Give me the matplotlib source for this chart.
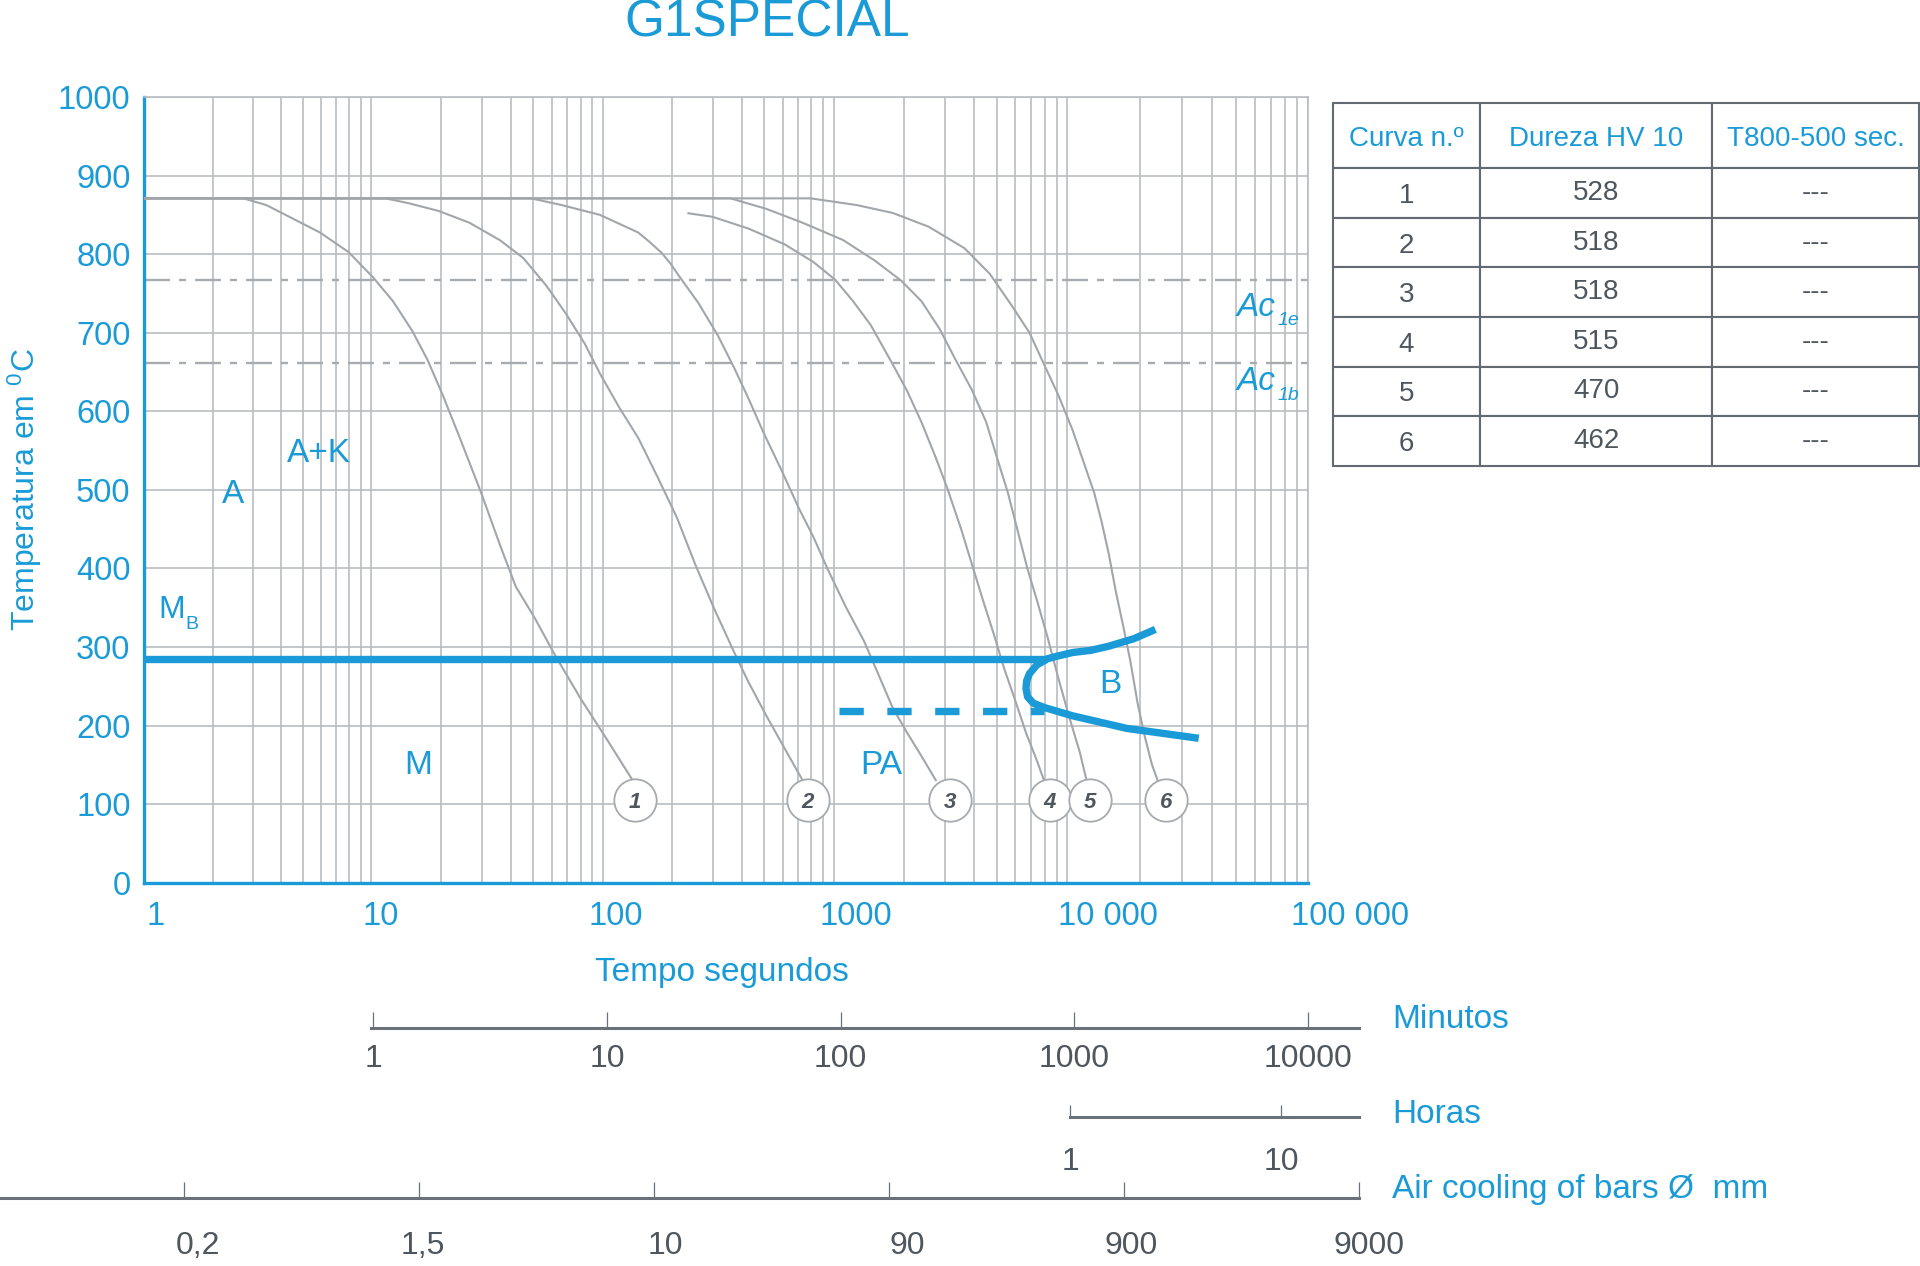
import numpy as np
import matplotlib
matplotlib.use('Agg')
import matplotlib.pyplot as plt
from matplotlib.ticker import LogLocator, NullFormatter, NullLocator
from matplotlib.transforms import ScaledTranslation

plt.rcParams['font.family'] = ['Liberation Sans', 'DejaVu Sans']
plt.rcParams['mathtext.fontset'] = 'custom'
plt.rcParams['mathtext.rm'] = 'Liberation Sans'
plt.rcParams['mathtext.it'] = 'Liberation Sans:italic'

azul = '#1a9bd7'
cinza_grelha = '#b9bdc1'
cinza_curva = '#a2a6aa'
cinza_texto = '#4f565d'
cinza_escala = '#6b7178'

# curvas de arrefecimento (tempo em s, temperatura em C)
c1_t = [1, 2.73, 3.44, 4.52, 5.94, 7.94, 10.2, 12.4, 15.0, 17.5, 20.3, 24.1, 29.8, 36.0, 42.0,
        50.7, 62.5, 80.2, 104.7, 134.3]
c1_T = [871, 871, 862.5, 845, 827.5, 802.5, 770, 740, 702.5, 665, 621, 566, 496, 429, 377,
        337, 288, 234, 181, 130.5]
c2_t = [1, 11.5, 14.4, 19.5, 26.5, 36.0, 45.3, 56.9, 68.9, 83.4, 97.0, 117.5, 142.2, 172.6,
        208.9, 251.2, 302, 370.7, 427.6, 511.7, 612.4, 732.8]
c2_T = [871, 871, 865, 855, 840, 817.5, 795, 760, 725, 686, 648, 605, 566, 516, 465, 405,
        350, 293, 255, 212, 171, 130.5]
c3_t = [1, 48.9, 66.2, 97.0, 142.2, 158.5, 179.1, 195, 213.8, 258.8, 314.1, 370.7, 427.6, 494.3,
        591.6, 707.9, 816.6, 941.9, 1127, 1346, 1549, 1786, 2061, 2377, 2735]
c3_T = [871, 871, 862.5, 850, 827.5, 816, 802, 789, 772, 738, 697, 655, 616, 574, 526, 476, 440,
        399, 351, 308, 266, 223, 191, 161, 130.5]
c4_t = [234.4, 298.5, 427.6, 612.4, 816.6, 1014, 1211, 1439, 1795, 2061, 2377, 2735, 3048,
        3508, 3936, 4345, 4831, 5383, 5984, 6653, 7396, 7943]
c4_T = [852, 847.5, 832.5, 812.5, 790, 767.5, 740, 710, 659, 626, 586, 541, 504, 450.5, 402,
        360.5, 317.5, 271.5, 232, 191, 156, 130.5]
c5_t = [1, 357.3, 511.7, 732.8, 1096, 1496, 1950, 2377, 2838, 3319, 3908, 4498, 5000, 5572,
        6081, 6761, 7396, 8222, 9141, 10162, 11272, 12020]
c5_T = [871, 871, 857.5, 840, 818, 792, 766, 740, 705, 666, 627, 586, 541, 496, 452, 399,
        360.5, 313, 261, 212, 166, 130.5]
c6_t = [1, 794, 1253, 1786, 2547, 3631, 4656, 5768, 6887, 7943, 9141, 10520, 11668, 12942,
        13868, 14859, 15922, 17061, 18281, 19588, 20989, 22439, 23710]
c6_T = [871, 871, 862.5, 852.5, 835, 807.5, 775, 735, 700, 660, 621, 576, 536, 496, 460, 419,
        370, 327, 282, 228.5, 186, 151, 130.5]

# numeros das curvas
circ_t = [138, 771, 3148, 8430, 12420, 25650]
circ_T = 105
circ_lab = ['1', '2', '3', '4', '5', '6']

# Ms, bainite e perlite
ms_t = [1, 8222]
ms_T = 285
b_t = [23230, 18880, 14860, 12500, 10520, 8851, 8222, 7396, 6887, 6699, 6653, 6761, 7145,
       7943, 10520, 17660, 35160]
b_T = [322.4, 310.5, 301, 295.7, 293, 287.6, 285, 277, 266, 257, 247.3, 236.6, 228.5, 223.1,
       212.4, 196.4, 183.8]
pa_t = [1050, 7943]
pa_T = 218

ac1e = 767.5
ac1b = 661.5

temp_ticks = [0, 100, 200, 300, 400, 500, 600, 700, 800, 900, 1000]
tempo_ticks = [1, 10, 100, 1000, 10000, 100000]
tempo_labels = ['1', '10', '100', '1000', '10 000', '100 000']

# tabela
tab_header = ['Curva n.º', 'Dureza HV 10', 'T800-500 sec.']
curva_n = ['1', '2', '3', '4', '5', '6']
dureza = [528, 518, 518, 515, 470, 462]
t8_5 = ['---', '---', '---', '---', '---', '---']

# escalas inferiores
min_ticks = [1, 10, 100, 1000, 10000]
min_labels = ['1', '10', '100', '1000', '10000']
hora_ticks = [1, 10]
hora_labels = ['1', '10']
ar_labels = ['0,2', '1,5', '10', '90', '900', '9000']

# no original as decadas do eixo do tempo nao tem todas a mesma largura (px)
dec_px = np.array([0, 226.9, 458.5, 689.2, 922.8, 1163.5])
dec_n = np.arange(len(dec_px))


def t_para_px(t):
    L = np.log10(np.maximum(np.asarray(t, dtype=float), 1e-12))
    y = np.interp(L, dec_n, dec_px)
    y = np.where(L < 0, L * dec_px[1], y)
    y = np.where(L > 5, dec_px[5] + (L - 5) * (dec_px[5] - dec_px[4]), y)
    return y


def px_para_t(y):
    y = np.asarray(y, dtype=float)
    L = np.interp(y, dec_px, dec_n)
    L = np.where(y < 0, y / dec_px[1], L)
    L = np.where(y > dec_px[5], 5 + (y - dec_px[5]) / (dec_px[5] - dec_px[4]), L)
    return 10 ** L


fig = plt.figure(figsize=(19.2, 12.66), dpi=100)
ax = fig.add_axes([0.07526, 0.30276, 0.60599, 0.62062])
ax.set_xscale('function', functions=(t_para_px, px_para_t))
ax.set_xlim(1, 1e5)
ax.set_ylim(0, 1000)
ax.set_yticks(temp_ticks)
ax.set_xticks(tempo_ticks)
ax.set_xticklabels(tempo_labels)
ax.xaxis.set_minor_locator(LogLocator(base=10, subs=np.arange(2, 10), numticks=50))
ax.xaxis.set_minor_formatter(NullFormatter())
ax.tick_params(which='both', length=0)
ax.tick_params(axis='y', labelsize=23.5, labelcolor=azul, pad=10)
ax.tick_params(axis='x', labelsize=23.5, labelcolor=azul, pad=13.5)
ax.grid(True, which='both', axis='x', color=cinza_grelha, lw=1.2)
ax.grid(True, which='major', axis='y', color=cinza_grelha, lw=1.2)
ax.set_axisbelow(True)
for s in ['left', 'bottom']:
    ax.spines[s].set_color(azul)
    ax.spines[s].set_linewidth(2.4)
for s in ['top', 'right']:
    ax.spines[s].set_color(cinza_grelha)
    ax.spines[s].set_linewidth(1.2)

# deslocar rotulos do eixo x como no original
for lab, dx in zip(ax.get_xticklabels(), [11, 9, 13, 22, 41, 42]):
    lab.set_transform(lab.get_transform() + ScaledTranslation(dx / 100, 0, fig.dpi_scale_trans))

ax.set_xlabel('Tempo segundos', fontsize=24, color=azul)
ax.xaxis.set_label_coords(0.4963, -0.094)
ax.set_ylabel('Temperatura em $\\mathrm{^{0}}$C', fontsize=23, color=azul)
ax.yaxis.set_label_coords(-0.086, 0.5)

# linhas Ac
ax.plot([1, 1e5], [ac1e, ac1e], color='#a8acb0', lw=1.7, ls=(0, (11, 3.8, 3, 3.8)), zorder=2)
ax.plot([1, 1e5], [ac1b, ac1b], color='#a8acb0', lw=1.7, ls=(0, (11, 3.8, 3, 3.8)), zorder=2)

# curvas
for t, T in [(c1_t, c1_T), (c2_t, c2_T), (c3_t, c3_T), (c4_t, c4_T), (c5_t, c5_T), (c6_t, c6_T)]:
    ax.plot(t, T, color=cinza_curva, lw=1.5, zorder=3, solid_joinstyle='round')

ax.plot(ms_t, [ms_T, ms_T], color=azul, lw=5.3, solid_capstyle='butt', zorder=4)
ax.plot(b_t, b_T, color=azul, lw=5.3, solid_capstyle='butt', solid_joinstyle='round', zorder=4)
ax.plot(pa_t, [pa_T, pa_T], color=azul, lw=5.3, ls=(0, (3.3, 3.2)), dash_capstyle='butt', zorder=4)

ax.plot(circ_t, [circ_T] * len(circ_t), 'o', ms=30.5, mfc='white', mec='#a6aaae', mew=1.3,
        zorder=5, clip_on=False)
for t, lab in zip(circ_t, circ_lab):
    ax.text(t, circ_T, lab, ha='center', va='center_baseline', fontsize=16, fontweight='bold',
            style='italic', color=cinza_texto, zorder=6)

# rotulos das regioes
ax.text(5.86, 535, 'A+K', ha='center', va='baseline', fontsize=24, color=azul)
ax.text(2.46, 483.5, 'A', ha='center', va='baseline', fontsize=24, color=azul)
ax.text(1.15, 337.5, 'M', ha='left', va='baseline', fontsize=23, color=azul)
ax.text(1.52, 322.5, 'B', ha='left', va='baseline', fontsize=14, color=azul)
ax.text(16.0, 138, 'M', ha='center', va='baseline', fontsize=24, color=azul)
ax.text(1596, 138, 'PA', ha='center', va='baseline', fontsize=24, color=azul)
ax.text(15100, 242, 'B', ha='center', va='baseline', fontsize=24, color=azul)
ax.text(50600, 721, 'Ac', ha='left', va='baseline', fontsize=24, style='italic', color=azul)
ax.text(74700, 709.5, '1e', ha='left', va='baseline', fontsize=14, style='italic', color=azul)
ax.text(50600, 626.5, 'Ac', ha='left', va='baseline', fontsize=24, style='italic', color=azul)
ax.text(74700, 614, '1b', ha='left', va='baseline', fontsize=14, style='italic', color=azul)

fig.text(767 / 1920, 1 - 36.7 / 1266, 'G1SPECIAL', ha='center', va='baseline', fontsize=37, color=azul)

# tabela
tax = fig.add_axes([0.6942, 0.6321, 0.3052, 0.2867])
tax.axis('off')
linhas = [[n, str(d), t] for n, d, t in zip(curva_n, dureza, t8_5)]
tab = tax.table(cellText=linhas, colLabels=tab_header, colWidths=[147.2, 232.4, 206.4],
                cellLoc='center', bbox=[0, 0, 1, 1])
tab.auto_set_font_size(False)
tab.set_fontsize(20)
for (r, c), cell in tab.get_celld().items():
    cell.set_edgecolor('#646a71')
    cell.set_linewidth(1.5)
    cell.set_height(65.6 if r == 0 else 49.6)
    cell.get_text().set_color(azul if r == 0 else cinza_texto)
    if r == 0 or c == 0:
        cell.get_text().set_va('center_baseline')


def escala(rect, scale, xlim, ticks, labels, pad, tick_len):
    a = fig.add_axes(rect)
    a.set_xscale(scale)
    a.set_xlim(*xlim)
    a.set_ylim(0, 1)
    a.set_yticks([])
    a.patch.set_visible(False)
    for s in ['left', 'right', 'top']:
        a.spines[s].set_visible(False)
    a.spines['bottom'].set_color(cinza_escala)
    a.spines['bottom'].set_linewidth(2.2)
    a.set_xticks(ticks)
    a.set_xticklabels(labels)
    a.xaxis.set_minor_locator(NullLocator())
    a.tick_params(axis='x', direction='in', length=tick_len, width=0.9, color=cinza_escala,
                  labelsize=23, labelcolor=cinza_texto, pad=pad)
    return a


escala([371 / 1920, 1 - 1028.3 / 1266, (1359 - 371) / 1920, 0.001], 'log',
       (10 ** -0.0107, 10 ** 4.2187), min_ticks, min_labels, 11, 11.5)
escala([1070 / 1920, 1 - 1116.7 / 1266, (1359 - 1070) / 1920, 0.001], 'log',
       (1, 10 ** 1.3697), hora_ticks, hora_labels, 21.5, 9)
ar = escala([0, 1 - 1198 / 1266, 1359 / 1920, 0.001], 'linear',
            (-0.7815, 5), list(range(len(ar_labels))), ar_labels, 24, 11.5)
for lab, dx in zip(ar.get_xticklabels(), [14, 4, 12, 18, 7, 10]):
    lab.set_transform(lab.get_transform() + ScaledTranslation(dx / 100, 0, fig.dpi_scale_trans))

fig.text(1392 / 1920, 1 - 1028.3 / 1266, 'Minutos', ha='left', va='baseline', fontsize=24, color=azul)
fig.text(1392 / 1920, 1 - 1123.3 / 1266, 'Horas', ha='left', va='baseline', fontsize=24, color=azul)
fig.text(1392 / 1920, 1 - 1198.3 / 1266, 'Air cooling of bars Ø  mm', ha='left', va='baseline',
         fontsize=24, color=azul)

fig.savefig('out.png', dpi=100)
